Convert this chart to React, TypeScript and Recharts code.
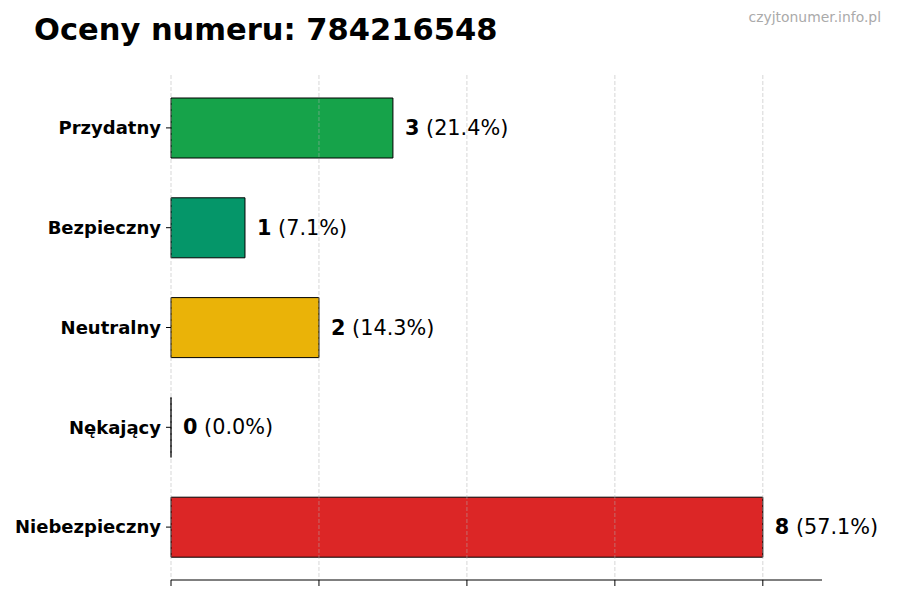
import React from 'react';
import { BarChart, Bar, XAxis, YAxis, CartesianGrid, Cell, LabelList } from 'recharts';

const categories = ['Przydatny', 'Bezpieczny', 'Neutralny', 'Nękający', 'Niebezpieczny'];
const counts = [3, 1, 2, 0, 8];
const percents = ['21.4%', '7.1%', '14.3%', '0.0%', '57.1%'];
const colors = ['#16a34a', '#059669', '#eab308', '#f97316', '#dc2626'];
const xTicks = [0, 2, 4, 6, 8];

const data = categories.map((name, i) => ({ name, value: counts[i], pct: percents[i] }));

const FONT = '"DejaVu Sans", sans-serif';

const renderLabel = (props: any) => {
  const { x, y, width, height, index } = props;
  return (
    <text
      x={Number(x) + Number(width) + 12}
      y={Number(y) + Number(height) / 2}
      dominantBaseline="central"
      fontFamily={FONT}
      fontSize={20.8}
      fill="#000"
    >
      <tspan fontWeight="bold">{counts[index]}</tspan>
      <tspan> ({percents[index]})</tspan>
    </text>
  );
};

const renderShape = (props: any) => {
  const { x, y, width, height, index } = props;
  const w = Math.max(0, Number(width) || 0);
  const h = Number(height) || 0;
  const d = `M${x},${y} h${w} v${h} h${-w} Z`;
  return <path d={d} fill={colors[index]} stroke="#000" strokeWidth={1} />;
};

const emptyTick = () => <g />;

const gridX = (args: any) => {
  const scale = args?.xAxis?.scale;
  if (scale && typeof scale === 'function') {
    return xTicks.map((t) => scale(t));
  }
  const left = args.offset.left;
  const w = args.offset.width;
  return xTicks.map((t) => left + (t / 8.8) * w);
};

export default function App() {
  return (
    <div style={{ position: 'absolute', left: 0, top: 0, width: 900, height: 600, background: '#fff' }}>
      <BarChart
        width={900}
        height={600}
        data={data}
        layout="vertical"
        margin={{ top: 75, right: 78, left: 0, bottom: 0 }}
      >
        <XAxis
          type="number"
          domain={[0, 8.8]}
          ticks={xTicks}
          tick={emptyTick}
          tickSize={6}
          height={20}
          axisLine={{ stroke: '#000', strokeWidth: 1 }}
          tickLine={{ stroke: '#000', strokeWidth: 1 }}
        />
        <YAxis
          type="category"
          dataKey="name"
          width={171}
          axisLine={false}
          tickSize={5}
          tickMargin={5}
          tickLine={{ stroke: '#000', strokeWidth: 1 }}
          padding={{ top: 3, bottom: 3 }}
          tick={{ fontFamily: FONT, fontSize: 18, fontWeight: 'bold', fill: '#000' }}
        />
        <Bar dataKey="value" barSize={60} isAnimationActive={false} shape={renderShape}>
          {data.map((d, i) => (
            <Cell key={d.name} fill={colors[i]} />
          ))}
          <LabelList dataKey="value" content={renderLabel} />
        </Bar>
        <CartesianGrid
          horizontal={false}
          verticalCoordinatesGenerator={gridX}
          stroke="#b0b0b0"
          strokeOpacity={0.5}
          strokeDasharray="4 2"
          {...({ zIndex: 450 } as any)}
        />
      </BarChart>
      <svg
        width={900}
        height={600}
        style={{ position: 'absolute', left: 0, top: 0, pointerEvents: 'none' }}
      >
        <text x={34} y={40} fontFamily={FONT} fontSize={30.5} fontWeight="bold" fill="#000">
          Oceny numeru: 784216548
        </text>
        <text x={881} y={22} textAnchor="end" fontFamily={FONT} fontSize={13.9} fill="#aaaaaa">
          czyjtonumer.info.pl
        </text>
      </svg>
    </div>
  );
}
